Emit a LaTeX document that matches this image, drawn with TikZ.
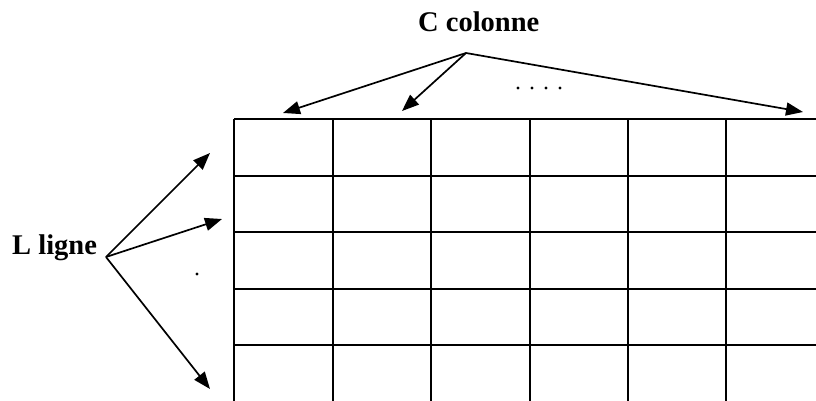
\documentclass[tikz,border=0pt]{standalone}
\usepackage{fontspec}
\setmainfont{Liberation Serif}
\usetikzlibrary{arrows.meta}
\begin{document}
\begin{tikzpicture}[x=1pt,y=-1pt,
  gridline/.style={line width=1.5pt},
  pointer/.style={line width=1.7pt,-{Triangle[length=17pt,width=13pt]}},
  label/.style={inner sep=0pt,anchor=base west,font=\fontsize{28.5}{34}\selectfont\bfseries},
  dotmark/.style={circle,fill=black,inner sep=0pt,minimum size=3.2pt}]
\useasboundingbox (0,0) rectangle (816,401);

% table grid: open on the right and at the bottom
\foreach \y in {119,176,232,289,345}
  \draw[gridline] (234,\y) -- (816,\y);
\foreach \x in {234,333,431,530,628,726}
  \draw[gridline] (\x,119) -- (\x,401);

% column label and its pointers
\node[label] (col) at (418,32) {C colonne};
\coordinate (cfrom) at (466,53);
\coordinate (c1) at (283,113);
\coordinate (c2) at (402,111);
\coordinate (cn) at (803,112);
\draw[pointer] (cfrom) -- (c1);
\draw[pointer] (cfrom) -- (c2);
\draw[pointer] (cfrom) -- (cn);
\foreach \x [count=\i] in {518,532,546,560}
  \node[dotmark] (cdot\i) at (\x,88) {};

% row label and its pointers
\node[label] (row) at (12,254) {L ligne};
\coordinate (rfrom) at (106,257);
\coordinate (r1) at (210,153);
\coordinate (r2) at (222,219);
\coordinate (rn) at (210,389);
\draw[pointer] (rfrom) -- (r1);
\draw[pointer] (rfrom) -- (r2);
\draw[pointer] (rfrom) -- (rn);
\node[dotmark] (rdot) at (197,274) {};
\end{tikzpicture}
\end{document}
